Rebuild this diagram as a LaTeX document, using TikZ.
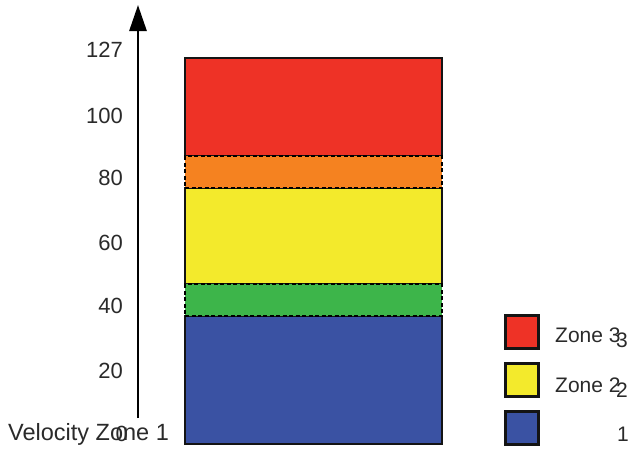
\documentclass[tikz,border=0pt]{standalone}
\usepackage{fontspec}
\setmainfont{Liberation Sans}
\usepackage{tikz}
\usetikzlibrary{arrows.meta,positioning}
\definecolor{ZoneRed}{HTML}{EE3226}
\definecolor{ZoneOrange}{HTML}{F58220}
\definecolor{ZoneYellow}{HTML}{F3EA2C}
\definecolor{ZoneGreen}{HTML}{3DB54A}
\definecolor{ZoneBlue}{HTML}{3A52A3}
\definecolor{ZoneEdge}{HTML}{141414}
\definecolor{ZoneText}{HTML}{2A2A2A}
\tikzset{
    % Base band style
    bandnode/.style={
        draw=ZoneEdge,
        line width=2pt,
        minimum width=257pt,
        inner sep=0pt,
        anchor=north west
    },
    % Overlap band style
    overlapnode/.style={
        bandnode,
        draw=black,
        line width=2.4pt,
        dash pattern=on 4pt off 2.5pt
    },
    % Tick label
    ticklabel/.style={
        anchor=east,
        inner sep=0pt,
        text=ZoneText,
        font=\fontsize{22}{26}\selectfont
    },
    % Legend square
    legendbox/.style={
        draw=ZoneEdge,
        line width=2.5pt,
        minimum width=33pt,
        minimum height=33pt,
        inner sep=0pt,
        anchor=north west
    },
    % Legend text
    legendtext/.style={
        anchor=west,
        inner sep=0pt,
        text=ZoneText,
        font=\fontsize{21}{25}\selectfont
    },
    % Axis arrow
    axisarrow/.style={
        -{Triangle[length=26pt,width=17pt]},
        line width=2.8pt,
        draw=black
    }
}
\begin{document}
\begin{tikzpicture}[x=1pt, y=-1pt]
    \useasboundingbox (0,0) rectangle (637,451);

    % velocity axis
    \coordinate (axisbottom) at (138,418);
    \coordinate (axistop) at (138,5);
    \draw[axisarrow] (axisbottom) -- (axistop);

    \node[ticklabel] (t127) at (123,50) {127};
    \node[ticklabel] (t100) at (123,116) {100};
    \node[ticklabel] (t80) at (123,178) {80};
    \node[ticklabel] (t60) at (123,243) {60};
    \node[ticklabel] (t40) at (123,306) {40};
    \node[ticklabel] (t20) at (123,371) {20};
    \node[ticklabel] (t0) at (128,434) {0};
    \node[legendtext, font=\fontsize{23.5}{28}\selectfont] (vzone) at (8,434) {Velocity Zone 1};

    % zone bands
    \node[bandnode, fill=ZoneRed, minimum height=98pt] (zone3) at (184,57) {};
    \node[bandnode, fill=ZoneYellow, minimum height=96pt] (zone2) at (184,187) {};
    \node[bandnode, fill=ZoneBlue, minimum height=128pt] (zone1) at (184,315) {};
    \node[overlapnode, fill=ZoneOrange, minimum height=32pt] (over32) at (184,155) {};
    \node[overlapnode, fill=ZoneGreen, minimum height=32pt] (over21) at (184,283) {};

    % legend
    \node[legendbox, fill=ZoneRed] (key3) at (504,314) {};
    \node[legendbox, fill=ZoneYellow] (key2) at (504,362) {};
    \node[legendbox, fill=ZoneBlue] (key1) at (504,410) {};
    \node[legendtext] (lab3) at (555,335) {Zone 3};
    \node[legendtext] (num3) at (616,340) {3};
    \node[legendtext] (lab2) at (555,385) {Zone 2};
    \node[legendtext] (num2) at (616,390) {2};
    \node[legendtext] (num1) at (617,434) {1};
\end{tikzpicture}
\end{document}
